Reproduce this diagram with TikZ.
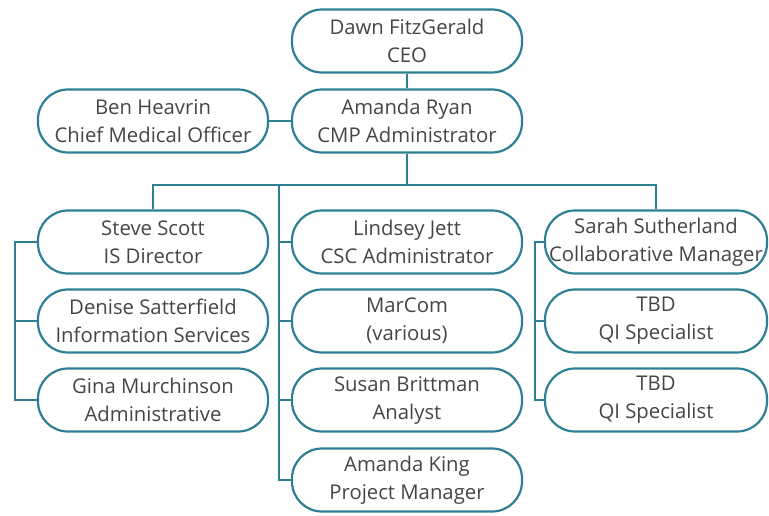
\documentclass[tikz,border=0pt]{standalone}
\usepackage{fontspec}
\setmainfont{Open Sans}
\usetikzlibrary{positioning}
\definecolor{boxline}{HTML}{2E7F93}
\definecolor{boxtext}{HTML}{454545}

\begin{document}
\begin{tikzpicture}[x=1pt,y=-1pt,line width=2.2pt]
	\tikzset{pbox/.style={draw=boxline,rounded corners=30pt,minimum width=230pt,minimum height=63pt,inner sep=0pt,align=center,text=boxtext,font=\fontsize{20.3}{28}\selectfont}}
	\tikzset{link/.style={draw=boxline}}
	\useasboundingbox (0,0) rectangle (769,515);
	\node[pbox] (ceo)    at (407,41)  {Dawn FitzGerald\\CEO};
	\node[pbox] (ryan)   at (407,121) {Amanda Ryan\\CMP Administrator};
	\node[pbox] (ben)    at (153,121) {Ben Heavrin\\Chief Medical Officer};
	% left column
	\node[pbox] (steve)  at (153,242) {Steve Scott\\IS Director};
	\node[pbox] (denise) at (153,321) {Denise Satterfield\\Information Services};
	\node[pbox] (gina)   at (153,400) {Gina Murchinson\\Administrative};
	% middle column
	\node[pbox] (jett)   at (407,242) {Lindsey Jett\\CSC Administrator};
	\node[pbox] (marcom) at (407,321) {MarCom\\(various)};
	\node[pbox] (susan)  at (407,400) {Susan Brittman\\Analyst};
	\node[pbox] (king)   at (407,480) {Amanda King\\Project Manager};
	% right column
	\tikzset{pbox/.append style={minimum width=222pt}}
	\node[pbox] (sarah)  at (656,242) {Sarah Sutherland\\Collaborative Manager};
	\node[pbox] (qia)    at (656,321) {TBD\\QI Specialist};
	\node[pbox] (qib)    at (656,400) {TBD\\QI Specialist};

	\coordinate (busl) at (153,185);
	\coordinate (busr) at (656,185);
	\coordinate (busm) at (279,185);
	\coordinate (lspine) at (15,0);
	\coordinate (rspine) at (535,0);

	\draw[link] (ceo) -- (ryan);
	\draw[link] (ben) -- (ryan);
	\draw[link] (ryan.south) -- (ryan.south |- busl);
	\draw[link] (steve.north) -- (busl) -- (busr) -- (sarah.north);
	\draw[link] (busm) |- (king.west);
	\foreach \n in {jett,marcom,susan}
		\draw[link] (busm |- \n.west) -- (\n.west);
	\draw[link] (steve.west) -- (lspine |- steve.west) |- (gina.west);
	\draw[link] (lspine |- denise.west) -- (denise.west);
	\draw[link] (sarah.west) -- (rspine |- sarah.west) |- (qib.west);
	\draw[link] (rspine |- qia.west) -- (qia.west);
\end{tikzpicture}
\end{document}
